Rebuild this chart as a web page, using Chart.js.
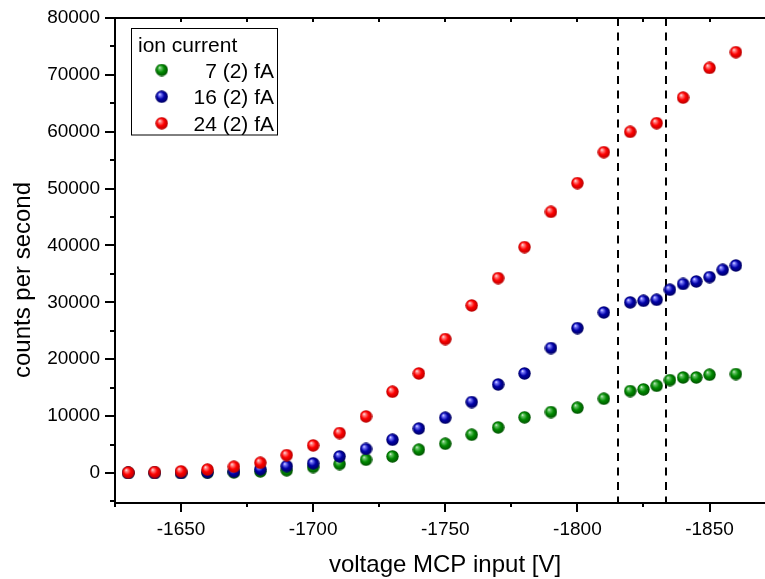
<!DOCTYPE html>
<html><head><meta charset="utf-8">
<script src="https://cdn.jsdelivr.net/npm/chart.js@4/dist/chart.umd.min.js"></script>
<style>html,body{margin:0;padding:0;background:#fff;overflow:hidden}</style>
</head><body>
<canvas id="c" width="765" height="579"></canvas>
<script>
// ---- data ----
const seriesNames = ['7 (2) fA', '16 (2) fA', '24 (2) fA'];
const legendTitle = 'ion current';
const xTitle = 'voltage MCP input [V]';
const yTitle = 'counts per second';

const xGreen = [-1630,-1640,-1650,-1660,-1670,-1680,-1690,-1700,-1710,-1720,-1730,-1740,-1750,-1760,-1770,-1780,-1790,-1800,-1810,-1820,-1825,-1830,-1835,-1840,-1845,-1850,-1860];
const yGreen = [0,0,0,50,100,280,480,1050,1580,2340,2920,4100,5150,6730,8020,9780,10720,11480,13060,14410,14700,15340,16340,16800,16800,17280,17400];

const xBlue = [-1630,-1640,-1650,-1660,-1670,-1680,-1690,-1700,-1710,-1720,-1730,-1740,-1750,-1760,-1770,-1780,-1790,-1800,-1810,-1820,-1825,-1830,-1835,-1840,-1845,-1850,-1855,-1860];
const yBlue = [0,0,0,150,250,650,1200,1700,2920,4220,5850,7820,9720,12480,15570,17500,21970,25480,28230,29990,30280,30460,32220,33240,33680,34450,35730,36490];

const xRed = [-1630,-1640,-1650,-1660,-1670,-1680,-1690,-1700,-1710,-1720,-1730,-1740,-1750,-1760,-1770,-1780,-1790,-1800,-1810,-1820,-1830,-1840,-1850,-1860];
const yRed = [100,170,290,600,1100,1800,3150,4850,7030,9950,14290,17500,23550,29460,34270,39720,45920,50970,56410,59980,61510,66010,71230,73990];

const xMajorTicks = [-1650,-1700,-1750,-1800,-1850];
const xMinorTicks = [-1625,-1675,-1725,-1775,-1825];
const yMajorTicks = [0,10000,20000,30000,40000,50000,60000,70000,80000];
const yMinorTicks = [-5000,5000,15000,25000,35000,45000,55000,65000,75000];
const markerLines = [-1815.3,-1833.6];

// ---- styling helpers ----
function sphere(light, base, dark, d) {
  const c = document.createElement('canvas');
  c.width = c.height = d;
  const g = c.getContext('2d');
  const r = d / 2;
  const grad = g.createRadialGradient(r - r * 0.35, r - r * 0.4, 0, r, r, r);
  grad.addColorStop(0, '#ffffff');
  grad.addColorStop(0.18, light);
  grad.addColorStop(0.55, base);
  grad.addColorStop(1, dark);
  g.fillStyle = grad;
  g.beginPath(); g.arc(r, r, r - 0.3, 0, Math.PI * 2); g.fill();
  return c;
}
const D = 13;
const sphGreen = sphere('#6fc86f', '#008a00', '#004d00', D);
const sphBlue = sphere('#8080ff', '#0000a8', '#00005a', D);
const sphRed = sphere('#ff9090', '#ff0000', '#b00000', D);
const spheres = [sphGreen, sphBlue, sphRed];

const FONT = '"Liberation Sans", Arial, sans-serif';

function pts(xs, ys) { return xs.map((x, i) => ({x: x, y: ys[i]})); }

const decor = {
  id: 'decor',
  beforeDatasetsDraw(chart) {
    const ctx = chart.ctx, xs = chart.scales.x, a = chart.chartArea;
    ctx.save();
    ctx.strokeStyle = '#000';
    ctx.lineWidth = 2;
    ctx.setLineDash([8, 6.5]);
    markerLines.forEach(v => {
      const px = Math.round(xs.getPixelForValue(v));
      ctx.beginPath(); ctx.moveTo(px, a.top); ctx.lineTo(px, a.bottom); ctx.stroke();
    });
    ctx.restore();
  },
  afterDraw(chart) {
    const ctx = chart.ctx, xs = chart.scales.x, ys = chart.scales.y, a = chart.chartArea;
    ctx.save();
    ctx.strokeStyle = '#000';
    ctx.lineWidth = 2;
    ctx.setLineDash([]);
    ctx.beginPath();
    ctx.moveTo(a.left, a.top); ctx.lineTo(a.left, a.bottom);
    ctx.moveTo(a.left - 1, a.bottom); ctx.lineTo(a.right, a.bottom);
    ctx.moveTo(a.left - 1, a.top); ctx.lineTo(a.right, a.top);
    ctx.stroke();
    ctx.beginPath();
    xMajorTicks.forEach(v => { const p = Math.round(xs.getPixelForValue(v)); ctx.moveTo(p, a.bottom); ctx.lineTo(p, a.bottom + 9); ctx.moveTo(p, a.top); ctx.lineTo(p, a.top + 4); });
    xMinorTicks.forEach(v => { const p = Math.round(xs.getPixelForValue(v)); ctx.moveTo(p, a.bottom); ctx.lineTo(p, a.bottom + 4); ctx.moveTo(p, a.top); ctx.lineTo(p, a.top + 4); });
    yMajorTicks.forEach(v => { const p = Math.round(ys.getPixelForValue(v)); ctx.moveTo(a.left, p); ctx.lineTo(a.left - 10, p); });
    yMinorTicks.forEach(v => { const p = Math.round(ys.getPixelForValue(v)); ctx.moveTo(a.left, p); ctx.lineTo(a.left - 5, p); });
    ctx.stroke();
    ctx.fillStyle = '#000';
    ctx.font = '24px ' + FONT;
    ctx.textAlign = 'center';
    ctx.textBaseline = 'alphabetic';
    ctx.fillText(xTitle, 445, 572);
    ctx.save();
    ctx.translate(30, 280);
    ctx.rotate(-Math.PI / 2);
    ctx.fillText(yTitle, 0, 0);
    ctx.restore();
    ctx.lineWidth = 1;
    ctx.strokeRect(131.5, 28.5, 146, 106.5);
    ctx.font = '21px ' + FONT;
    ctx.textAlign = 'left';
    ctx.fillText(legendTitle, 138, 51.5);
    ctx.textAlign = 'right';
    const rows = [70, 96.7, 123.3];
    seriesNames.forEach((n, i) => {
      ctx.drawImage(spheres[i], 161.7 - D / 2, rows[i] - D / 2);
      ctx.fillText(n, 274, rows[i] + 7.5);
    });
    ctx.restore();
  }
};

function noPad(s) { s.paddingLeft = 0; s.paddingRight = 0; s.paddingTop = 0; s.paddingBottom = 0; }

new Chart(document.getElementById('c'), {
  type: 'scatter',
  data: {
    datasets: [
      {label: seriesNames[0], data: pts(xGreen, yGreen), pointStyle: sphGreen, pointRadius: 6, order: 3},
      {label: seriesNames[1], data: pts(xBlue, yBlue), pointStyle: sphBlue, pointRadius: 6, order: 2},
      {label: seriesNames[2], data: pts(xRed, yRed), pointStyle: sphRed, pointRadius: 6, order: 1}
    ]
  },
  options: {
    responsive: false,
    animation: false,
    events: [],
    layout: {autoPadding: false, padding: {top: 18, right: 0, left: 0, bottom: 0}},
    plugins: {legend: {display: false}, tooltip: {enabled: false}},
    scales: {
      x: {
        type: 'linear', reverse: true, min: -1871, max: -1625,
        grid: {display: false, drawTicks: false}, border: {display: false},
        afterBuildTicks: s => { s.ticks = xMajorTicks.map(v => ({value: v})); },
        afterFit: s => { s.height = 76; noPad(s); },
        ticks: {color: '#000', font: {size: 19, family: FONT}, padding: 15, maxRotation: 0, autoSkip: false, callback: v => String(v)}
      },
      y: {
        type: 'linear', min: -5275, max: 80000,
        grid: {display: false, drawTicks: false}, border: {display: false},
        afterBuildTicks: s => { s.ticks = yMajorTicks.map(v => ({value: v})); },
        afterFit: s => { s.width = 115; noPad(s); },
        ticks: {color: '#000', font: {size: 19, family: FONT}, padding: 15, autoSkip: false, callback: v => String(v)}
      }
    }
  },
  plugins: [decor]
});
</script>
</body></html>
